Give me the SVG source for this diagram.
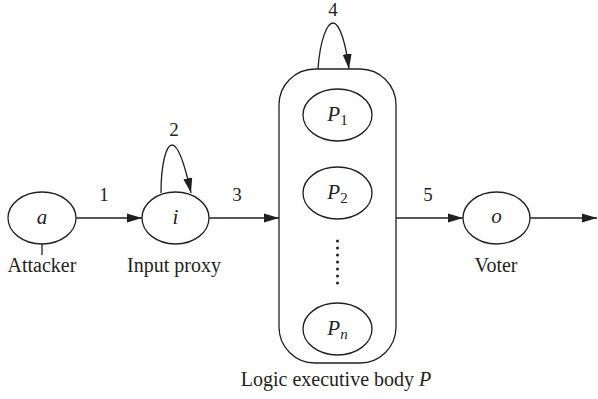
<svg xmlns="http://www.w3.org/2000/svg" width="598" height="399" viewBox="0 0 598 399">
  <style>
    .shape { fill: none; stroke: #231f20; stroke-width: 1.3; }
    .edge { fill: none; stroke: #231f20; stroke-width: 1.3; marker-end: url(#ah); }
    text { font-family: "Liberation Serif", "Times New Roman", serif; fill: #231f20; text-anchor: middle; }
    .lbl { font-size: 20px; }
    .num { font-size: 19px; }
    .var { font-size: 21px; font-style: italic; }
    .sub { font-size: 15px; font-style: normal; }
    .subi { font-size: 15px; font-style: italic; }
  </style>
  <defs>
    <marker id="ah" markerWidth="15" markerHeight="10" refX="15" refY="5" orient="auto" markerUnits="userSpaceOnUse">
      <path d="M0,0.5 L15,5 L0,9.5 Z" fill="#231f20"/>
    </marker>
  </defs>

  <!-- connectors -->
  <g id="connectors">
    <path class="edge" d="M76,218 H142"/>
    <path class="edge" d="M161,193 C161,165 166,145 172,145 C179,145 186,170 191,193"/>
    <path class="edge" d="M209,218 H279"/>
    <path class="edge" d="M318,69 C320,40 327,23 333,23 C340,23 346,45 349,69"/>
    <path class="edge" d="M396,218 H463"/>
    <path class="edge" d="M530,218 H597"/>
    <text class="num" x="104" y="201">1</text>
    <text class="num" x="174" y="136">2</text>
    <text class="num" x="237" y="201">3</text>
    <text class="num" x="333" y="16">4</text>
    <text class="num" x="428" y="201">5</text>
  </g>

  <!-- attacker -->
  <g id="attacker">
    <ellipse class="shape" cx="42" cy="218" rx="34" ry="26"/>
    <text class="var" x="42" y="224">a</text>
    <line class="shape" x1="42" y1="244" x2="42" y2="255"/>
    <text class="lbl" x="42" y="272">Attacker</text>
  </g>

  <!-- input proxy -->
  <g id="input-proxy">
    <ellipse class="shape" cx="175.5" cy="218" rx="33.5" ry="26"/>
    <text class="var" x="175.5" y="224">i</text>
    <text class="lbl" x="174" y="272">Input proxy</text>
  </g>

  <!-- logic executive body -->
  <g id="executive-body">
    <rect class="shape" x="279" y="69" width="117" height="294" rx="36" ry="36"/>
    <text class="lbl" x="336" y="386">Logic executive body <tspan font-style="italic">P</tspan></text>
  </g>

  <g id="p1">
    <ellipse class="shape" cx="337.5" cy="115" rx="34.5" ry="26"/>
    <text class="var" x="337.5" y="121">P<tspan class="sub" dy="4">1</tspan></text>
  </g>

  <g id="p2">
    <ellipse class="shape" cx="337.5" cy="193" rx="34.5" ry="26"/>
    <text class="var" x="337.5" y="199">P<tspan class="sub" dy="4">2</tspan></text>
  </g>

  <g id="dots" fill="#231f20">
    <circle cx="337.5" cy="241" r="1.5"/>
    <circle cx="337.5" cy="248" r="1.5"/>
    <circle cx="337.5" cy="255" r="1.5"/>
    <circle cx="337.5" cy="262" r="1.5"/>
    <circle cx="337.5" cy="269" r="1.5"/>
    <circle cx="337.5" cy="276" r="1.5"/>
    <circle cx="337.5" cy="283" r="1.5"/>
  </g>

  <g id="pn">
    <ellipse class="shape" cx="337.5" cy="329" rx="34.5" ry="26"/>
    <text class="var" x="337.5" y="335">P<tspan class="subi" dy="4">n</tspan></text>
  </g>

  <!-- voter -->
  <g id="voter">
    <ellipse class="shape" cx="496.5" cy="218" rx="33.5" ry="26"/>
    <text class="var" x="496.5" y="223">o</text>
    <text class="lbl" x="496" y="272">Voter</text>
  </g>
</svg>
